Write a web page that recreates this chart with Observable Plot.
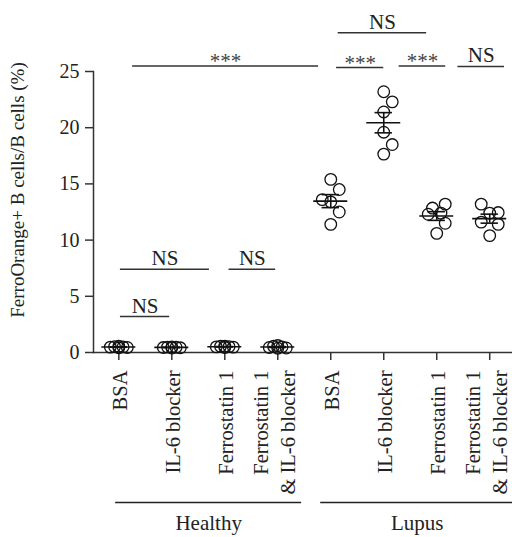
<!DOCTYPE html>
<html><head><meta charset="utf-8">
<script src="https://cdn.jsdelivr.net/npm/d3@7"></script>
<script src="https://cdn.jsdelivr.net/npm/@observablehq/plot@0.6"></script>
<style>body{margin:0;background:#fff} svg{display:block}</style>
</head><body><div id="chart"></div>
<script>
// ---- data ----
const groupLabels = ["BSA", "IL-6 blocker", "Ferrostatin 1", "Ferrostatin 1\n& IL-6 blocker",
                     "BSA", "IL-6 blocker", "Ferrostatin 1", "Ferrostatin 1\n& IL-6 blocker"];
const cohortNames = ["Healthy", "Lupus"];
const cohortStart = [-0.06, 3.81];
const cohortEnd = [3.45, 7.45];

const healthyBSA = [0.45, 0.52, 0.48, 0.55, 0.42, 0.50];
const healthyIL6 = [0.40, 0.47, 0.50, 0.44, 0.48, 0.42];
const healthyFer = [0.50, 0.57, 0.45, 0.52, 0.48, 0.55];
const healthyFerIL6 = [0.40, 0.55, 0.62, 0.45, 0.50, 0.38];
const lupusBSA = [15.4, 14.5, 13.6, 13.4, 12.5, 11.4];
const lupusIL6 = [23.2, 22.3, 21.4, 19.6, 18.5, 17.65];
const lupusFer = [13.2, 12.85, 12.4, 12.3, 11.5, 10.6];
const lupusFerIL6 = [13.2, 12.45, 12.4, 11.6, 11.4, 10.4];
const groupValues = [healthyBSA, healthyIL6, healthyFer, healthyFerIL6, lupusBSA, lupusIL6, lupusFer, lupusFerIL6];

const yTicks = [0, 5, 10, 15, 20, 25];
const yLabel = "FerroOrange+ B cells/B cells (%)";

const bracketStart = [0.03, 0.03, 2.08, 0.26, 4.11, 5.29, 6.40, 4.14];
const bracketEnd   = [0.96, 1.71, 2.96, 3.77, 5.00, 6.17, 7.28, 5.81];
const bracketLevel = [3.2, 7.4, 7.4, 25.5, 25.35, 25.48, 25.45, 28.45];
const bracketLabel = ["NS", "NS", "NS", "***", "***", "***", "NS", "NS"];

// ---- layout ----
const W = 512, H = 537, mL = 93, mR = 0, mT = 71, mB = 185;
const xDomain = [-0.478, 7.43], yDomain = [0, 25];
const kx = (W - mL - mR) / (xDomain[1] - xDomain[0]);
const ky = (H - mT - mB) / (yDomain[1] - yDomain[0]);
const S = 8.5, D = 13; // px spacing / collision diameter
const meanHalf = 17 / kx, capHalf = 8.7 / kx;
const ink = "#222";

function better(a, b) {
  for (let k = 0; k < a.length; k++) {
    if (a[k] > b[k] + 0.01) return true;
    if (a[k] < b[k] - 0.01) return false;
  }
  return false;
}
function dodge(values) {
  const order = d3.range(values.length).sort((a, b) => values[a] - values[b]);
  const placed = [], offs = new Array(values.length);
  const cands = [0, S, -S, S / 2, -S / 2];
  for (const i of order) {
    const yp = values[i] * ky;
    let best = null, bestScore = null;
    for (const c of cands) {
      const ds = placed.map(p => Math.hypot(p.x - c, p.y - yp)).sort((a, b) => a - b);
      if (ds.length === 0 || ds[0] >= D) { best = c; break; }
      if (best === null || better(ds, bestScore)) { best = c; bestScore = ds; }
    }
    offs[i] = best;
    placed.push({x: best, y: yp});
  }
  return offs;
}

const points = [], stats = [];
groupValues.forEach((vals, i) => {
  const offs = dodge(vals);
  vals.forEach((v, j) => points.push({i, v, x: i + offs[j] / kx}));
  const m = d3.mean(vals), sem = d3.deviation(vals) / Math.sqrt(vals.length);
  stats.push({i, mean: m, lo: m - sem, hi: m + sem});
});
const groups = groupLabels.map((label, i) => ({i, label, multi: label.includes("\n")}));
const cohorts = cohortNames.map((name, k) => ({name, x1: cohortStart[k], x2: cohortEnd[k]}));
const brackets = bracketLabel.map((label, k) => ({
  label, x1: bracketStart[k], x2: bracketEnd[k], y: bracketLevel[k],
  xm: (bracketStart[k] + bracketEnd[k]) / 2
}));

const tickText = {x: "i", y: () => 0, text: "label", rotate: -90, textAnchor: "end", lineAnchor: "middle", lineHeight: 1.3, dy: 18, fontSize: 20.5, fill: ink};

const chart = Plot.plot({
  width: W, height: H,
  marginLeft: mL, marginRight: mR, marginTop: mT, marginBottom: mB,
  style: {fontFamily: "'Liberation Serif', 'Times New Roman', serif", fontSize: "21px", color: ink, background: "#fff", overflow: "visible"},
  x: {type: "linear", domain: xDomain, axis: null},
  y: {domain: yDomain, axis: null},
  marks: [
    Plot.frame({anchor: "left", stroke: "#333", strokeWidth: 1.5}),
    Plot.frame({anchor: "bottom", stroke: "#333", strokeWidth: 1.5}),
    Plot.axisY({ticks: yTicks, tickSize: 8, tickPadding: 6, label: null, strokeWidth: 1.5, stroke: "#333", fontSize: 20}),
    Plot.axisX({ticks: groups.map(d => d.i), tickFormat: () => "", tickSize: 8, label: null, strokeWidth: 1.5, stroke: "#333"}),
    Plot.text([yLabel], {frameAnchor: "left", text: d => d, rotate: -90, textAnchor: "middle", lineAnchor: "middle", dx: -76, dy: -22, fontSize: 19, fill: ink}),
    Plot.text(groups.filter(d => !d.multi), tickText),
    Plot.text(groups.filter(d => d.multi), {...tickText, dx: -5}),
    Plot.ruleY(cohorts, {y: () => 0, x1: "x1", x2: "x2", dy: 150, stroke: "#222", strokeWidth: 1.3}),
    Plot.text(cohorts, {x: d => (d.x1 + d.x2) / 2, y: () => 0, text: "name", dy: 171, fill: ink}),
    Plot.dot(points, {x: "x", y: "v", r: 5.8, stroke: "#111", strokeWidth: 1.3, fill: "none"}),
    Plot.ruleY(stats, {y: "mean", x1: d => d.i - meanHalf, x2: d => d.i + meanHalf, stroke: "#111", strokeWidth: 1.6}),
    Plot.ruleX(stats, {x: "i", y1: "lo", y2: "hi", stroke: "#111", strokeWidth: 1.6}),
    Plot.ruleY(stats, {y: "lo", x1: d => d.i - capHalf, x2: d => d.i + capHalf, stroke: "#111", strokeWidth: 1.6}),
    Plot.ruleY(stats, {y: "hi", x1: d => d.i - capHalf, x2: d => d.i + capHalf, stroke: "#111", strokeWidth: 1.6}),
    Plot.ruleY(brackets, {y: "y", x1: "x1", x2: "x2", stroke: "#333", strokeWidth: 1.5}),
    Plot.text(brackets.filter(d => d.label !== "***"), {x: "xm", y: "y", text: "label", lineAnchor: "bottom", dy: -4, fill: ink}),
    Plot.text(brackets.filter(d => d.label === "***"), {x: "xm", y: "y", text: "label", lineAnchor: "bottom", dy: 2, fill: "#444"})
  ]
});
document.getElementById("chart").appendChild(chart);
</script>
</body></html>
